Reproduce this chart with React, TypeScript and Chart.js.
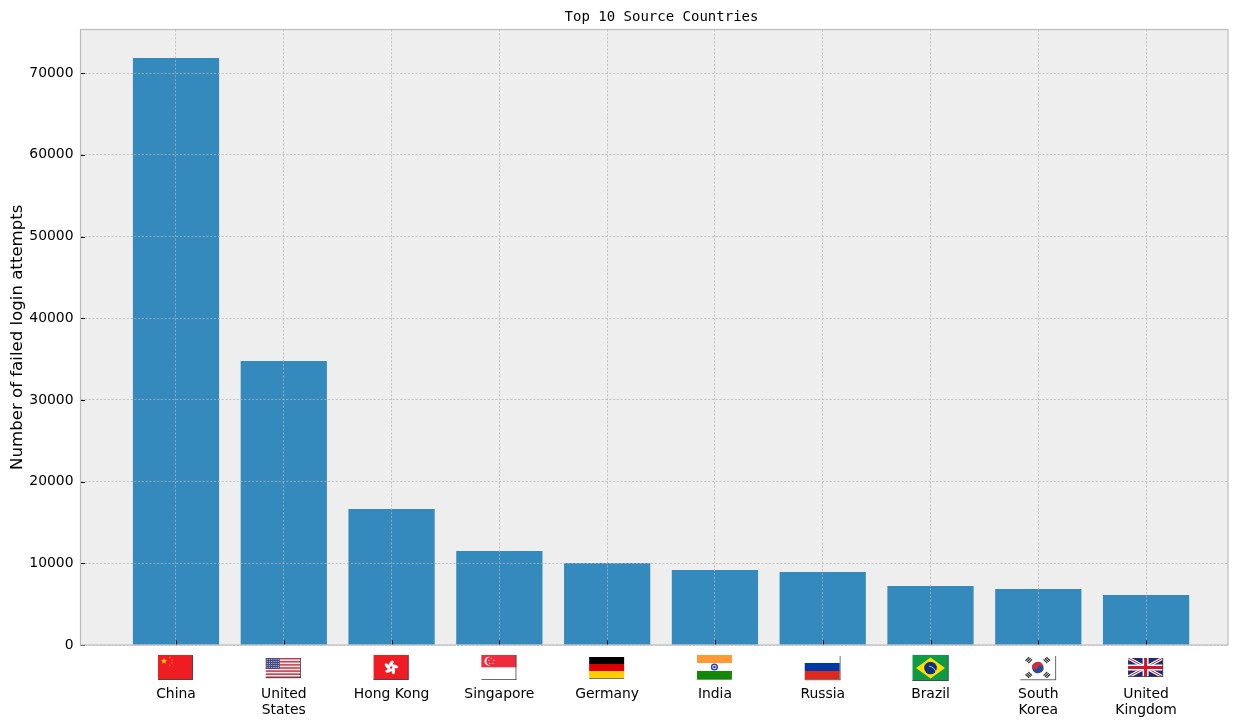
import { useEffect, useRef } from "react"
import { Chart, registerables } from "chart.js"

Chart.register(...registerables)

const countries = [
  "China",
  ["United", "States"],
  "Hong Kong",
  "Singapore",
  "Germany",
  "India",
  "Russia",
  "Brazil",
  ["South", "Korea"],
  ["United", "Kingdom"],
]
const attempts = [71850, 34770, 16650, 11500, 10030, 9170, 8930, 7220, 6850, 6120]
const flagCodes = ["cn", "us", "hk", "sg", "de", "in", "ru", "br", "kr", "gb"]
const yTicks = [0, 10000, 20000, 30000, 40000, 50000, 60000, 70000]

const plotBg = "#eeeeee"
const barColor = "#348abd"
const gridColor = "#b2b2b2"
const edgeColor = "#bcbcbc"
const tickFont = { family: "'DejaVu Sans'", size: 13.9, lineHeight: 1.15 }

type Ctx = CanvasRenderingContext2D

function box(c: Ctx, x: number, y: number, w: number, h: number, color: string) {
  c.fillStyle = color
  c.fillRect(x, y, w, h)
}

function star(c: Ctx, x: number, y: number, r: number, color: string, turn = 0) {
  c.fillStyle = color
  c.beginPath()
  for (let i = 0; i < 10; i++) {
    const a = -Math.PI / 2 + turn + (i * Math.PI) / 5
    const d = i % 2 ? r * 0.4 : r
    c.lineTo(x + d * Math.cos(a), y + d * Math.sin(a))
  }
  c.closePath()
  c.fill()
}

function disc(c: Ctx, x: number, y: number, r: number, color: string) {
  c.fillStyle = color
  c.beginPath()
  c.arc(x, y, r, 0, Math.PI * 2)
  c.fill()
}

function shadow(c: Ctx, x: number, y: number, w: number, h: number) {
  c.fillStyle = "#444444"
  c.fillRect(x, y + h - 0.8, w, 0.8)
  c.fillRect(x + w - 0.8, y, 0.8, h)
}

// flags sit under the ticks, x is the left edge of a 35px wide image
const flags: Record<string, (c: Ctx, x: number) => void> = {
  cn(c, x) {
    box(c, x, 655, 35, 25, "#f01c24")
    star(c, x + 6, 661, 3.4, "#ffde00")
    star(c, x + 12, 657.5, 0.9, "#ffde00")
    star(c, x + 14, 660, 0.9, "#ffde00")
    star(c, x + 14, 663, 0.9, "#ffde00")
    star(c, x + 12, 665.5, 0.9, "#ffde00")
    shadow(c, x, 655, 35, 25)
  },
  us(c, x) {
    const rows = 13
    for (let i = 0; i < rows; i++) {
      box(c, x, 658 + (i * 20) / rows, 35, 20 / rows + 0.2, i % 2 ? "#f5e8e8" : "#c0394b")
    }
    box(c, x, 658, 14, 11, "#4a4a80")
    for (let r = 0; r < 5; r++) {
      for (let k = 0; k < 6; k++) box(c, x + 1 + k * 2.2, 659 + r * 2, 1, 1, "#b8b8d4")
    }
    shadow(c, x, 658, 35, 20)
  },
  hk(c, x) {
    box(c, x, 655, 35, 25, "#f01c24")
    for (let i = 0; i < 5; i++) {
      const a = -Math.PI / 2 + (i * 2 * Math.PI) / 5
      c.fillStyle = "#ffffff"
      c.beginPath()
      c.ellipse(x + 17.5 + 3.8 * Math.cos(a), 667.5 + 3.8 * Math.sin(a), 3.6, 1.7, a + 0.6, 0, Math.PI * 2)
      c.fill()
    }
    shadow(c, x, 655, 35, 25)
  },
  sg(c, x) {
    box(c, x, 655, 35, 12.5, "#ef2b3d")
    box(c, x, 667.5, 35, 12.5, "#ffffff")
    disc(c, x + 7.5, 661.2, 4.4, "#ffffff")
    disc(c, x + 9.2, 661.2, 4.1, "#ef2b3d")
    for (let i = 0; i < 5; i++) {
      const a = -Math.PI / 2 + (i * 2 * Math.PI) / 5
      star(c, x + 10 + 2.7 * Math.cos(a), 661.2 + 2.7 * Math.sin(a), 0.9, "#ffffff")
    }
    shadow(c, x, 655, 35, 25)
  },
  de(c, x) {
    box(c, x, 657, 35, 7, "#000000")
    box(c, x, 664, 35, 7, "#dd0000")
    box(c, x, 671, 35, 7, "#ffce00")
    box(c, x, 678, 35, 0.8, "#555555")
  },
  in(c, x) {
    box(c, x, 655, 35, 8, "#ff9933")
    box(c, x, 663, 35, 8, "#ffffff")
    box(c, x, 671, 35, 8.7, "#138808")
    disc(c, x + 17.5, 667, 3.6, "#2a3a9e")
    disc(c, x + 17.5, 667, 2.3, "#c8cce8")
    disc(c, x + 17.5, 667, 1.1, "#1c2f96")
  },
  ru(c, x) {
    box(c, x, 663, 35, 8, "#0039a6")
    box(c, x, 671, 35, 8.6, "#e0291c")
    c.fillStyle = "#555555"
    c.fillRect(x + 35, 656, 0.8, 24)
    c.fillRect(x, 679.4, 35.8, 0.8)
  },
  br(c, x) {
    box(c, x, 655, 36, 26, "#0f9a46")
    c.fillStyle = "#fedf00"
    c.beginPath()
    c.moveTo(x + 18, 657.5)
    c.lineTo(x + 32.5, 668)
    c.lineTo(x + 18, 678.5)
    c.lineTo(x + 3.5, 668)
    c.closePath()
    c.fill()
    disc(c, x + 18, 668, 6.3, "#10307a")
    c.strokeStyle = "#d8e0e8"
    c.lineWidth = 0.8
    c.beginPath()
    c.arc(x + 15, 675, 9, -1.4, -0.3)
    c.stroke()
    shadow(c, x, 655, 36, 26)
  },
  kr(c, x) {
    box(c, x, 656, 35, 24, "#ffffff")
    const cx = x + 17.5
    const cy = 667.5
    c.fillStyle = "#cd2e3a"
    c.beginPath()
    c.arc(cx, cy, 5.8, Math.PI * 1.12, Math.PI * 0.12)
    c.fill()
    c.fillStyle = "#1f4f9e"
    c.beginPath()
    c.arc(cx, cy, 5.8, Math.PI * 0.12, Math.PI * 1.12)
    c.fill()
    disc(c, cx - 2.8, cy - 0.9, 2.9, "#cd2e3a")
    disc(c, cx + 2.8, cy + 0.9, 2.9, "#1f4f9e")
    c.strokeStyle = "#222222"
    c.lineWidth = 1.1
    for (const [dx, dy] of [[-1, -1], [1, -1], [-1, 1], [1, 1]]) {
      const a = Math.atan2(dy, dx) + Math.PI / 2
      for (let k = 0; k < 3; k++) {
        const r = 8 + k * 1.5
        const mx = cx + dx * r * 0.95
        const my = cy + dy * r * 0.78
        c.beginPath()
        c.moveTo(mx - 2.6 * Math.cos(a), my - 2.6 * Math.sin(a))
        c.lineTo(mx + 2.6 * Math.cos(a), my + 2.6 * Math.sin(a))
        c.stroke()
      }
    }
    c.fillStyle = "#444444"
    c.fillRect(x + 35, 656, 0.8, 24)
    c.fillRect(x, 679.4, 35.8, 0.8)
  },
  gb(c, x) {
    const y = 658
    const w = 35
    const h = 19
    box(c, x, y, w, h, "#1c2a6e")
    c.save()
    c.beginPath()
    c.rect(x, y, w, h)
    c.clip()
    const cross = (color: string, width: number) => {
      c.strokeStyle = color
      c.lineWidth = width
      c.beginPath()
      c.moveTo(x, y)
      c.lineTo(x + w, y + h)
      c.moveTo(x + w, y)
      c.lineTo(x, y + h)
      c.stroke()
    }
    cross("#ffffff", 3.2)
    cross("#cf142b", 1)
    c.restore()
    box(c, x + 14.5, y, 6, h, "#ffffff")
    box(c, x, y + 6.5, w, 6, "#ffffff")
    box(c, x + 16, y, 3, h, "#cf142b")
    box(c, x, y + 8, w, 3, "#cf142b")
    shadow(c, x, y, w, h)
  },
}

const framePlugin = {
  id: "frame",
  beforeDraw(chart: any) {
    const { ctx, chartArea: a } = chart
    ctx.save()
    ctx.fillStyle = plotBg
    ctx.fillRect(a.left, a.top, a.right - a.left, a.bottom - a.top)
    ctx.restore()
  },
  afterDraw(chart: any) {
    const { ctx, chartArea: a, scales } = chart
    ctx.save()
    // inward ticks
    ctx.strokeStyle = "#000000"
    ctx.lineWidth = 1
    ctx.beginPath()
    scales.x.ticks.forEach((t: any) => {
      const px = Math.round(scales.x.getPixelForValue(t.value)) + 0.5
      ctx.moveTo(px, a.bottom)
      ctx.lineTo(px, a.bottom - 4.5)
    })
    scales.y.ticks.forEach((t: any) => {
      const py = Math.round(scales.y.getPixelForValue(t.value)) + 0.5
      ctx.moveTo(a.left, py)
      ctx.lineTo(a.left + 4.5, py)
    })
    ctx.stroke()
    ctx.strokeStyle = edgeColor
    ctx.lineWidth = 1.2
    ctx.strokeRect(a.left, a.top, a.right - a.left, a.bottom - a.top)

    // flags
    scales.x.ticks.forEach((t: any) => {
      const draw = flags[flagCodes[t.value]]
      if (draw) draw(ctx, scales.x.getPixelForValue(t.value) - 18)
    })

    // title is not centred on the canvas or the axes in the original
    ctx.fillStyle = "#000000"
    ctx.font = "14px 'DejaVu Sans Mono'"
    ctx.textAlign = "center"
    ctx.textBaseline = "middle"
    ctx.fillText("Top 10 Source Countries", 661.5, 17)
    ctx.restore()
  },
}

export default function App() {
  const chartRef = useRef<HTMLCanvasElement>(null)

  useEffect(() => {
    document.body.style.margin = "0"
    if (!chartRef.current) return

    const chart = new Chart(chartRef.current, {
      type: "bar",
      data: {
        datasets: [
          {
            data: attempts.map((v, i) => ({ x: i, y: v })),
            backgroundColor: barColor,
            borderWidth: 0,
            barPercentage: 1,
            categoryPercentage: 0.8,
          },
        ],
      },
      options: {
        responsive: false,
        animation: false,
        devicePixelRatio: 1,
        layout: { padding: { left: 0, right: 24, top: 29.5, bottom: 0 } },
        plugins: { legend: { display: false }, tooltip: { enabled: false } },
        scales: {
          x: {
            type: "linear",
            offset: false,
            min: -0.886,
            max: 9.76,
            afterFit(s: any) {
              s.height = 82
            },
            grid: {
              offset: false,
              z: 1,
              color: gridColor,
              lineWidth: 0.7,
              drawTicks: false,
            },
            border: { display: false, dash: [2.2, 1.6] },
            ticks: {
              stepSize: 1,
              includeBounds: false,
              autoSkip: false,
              maxRotation: 0,
              padding: 41,
              color: "#000000",
              font: tickFont,
              callback: (v: any) => countries[v] as any,
            },
          },
          y: {
            min: 0,
            max: 75340,
            afterFit(s: any) {
              s.width = 80.5
            },
            // stepSize gets rounded to a whole count on this range, so set the ticks here
            afterBuildTicks(s: any) {
              s.ticks = yTicks.map((value) => ({ value }))
            },
            grid: {
              z: 1,
              color: gridColor,
              lineWidth: 0.7,
              drawTicks: false,
            },
            border: { display: false, dash: [2.2, 1.6] },
            title: {
              display: true,
              text: "Number of failed login attempts",
              color: "#000000",
              font: { family: "'DejaVu Sans'", size: 16.6 },
              padding: { top: 8, bottom: 0 },
            },
            ticks: {
              padding: 7,
              color: "#000000",
              font: tickFont,
              callback: (v: any) => String(v),
            },
          },
        },
      },
      plugins: [framePlugin],
    } as any)

    return () => chart.destroy()
  }, [])

  return (
    <div style={{ width: 1252, height: 727 }}>
      <canvas ref={chartRef} width={1252} height={727} style={{ display: "block" }} />
    </div>
  )
}
